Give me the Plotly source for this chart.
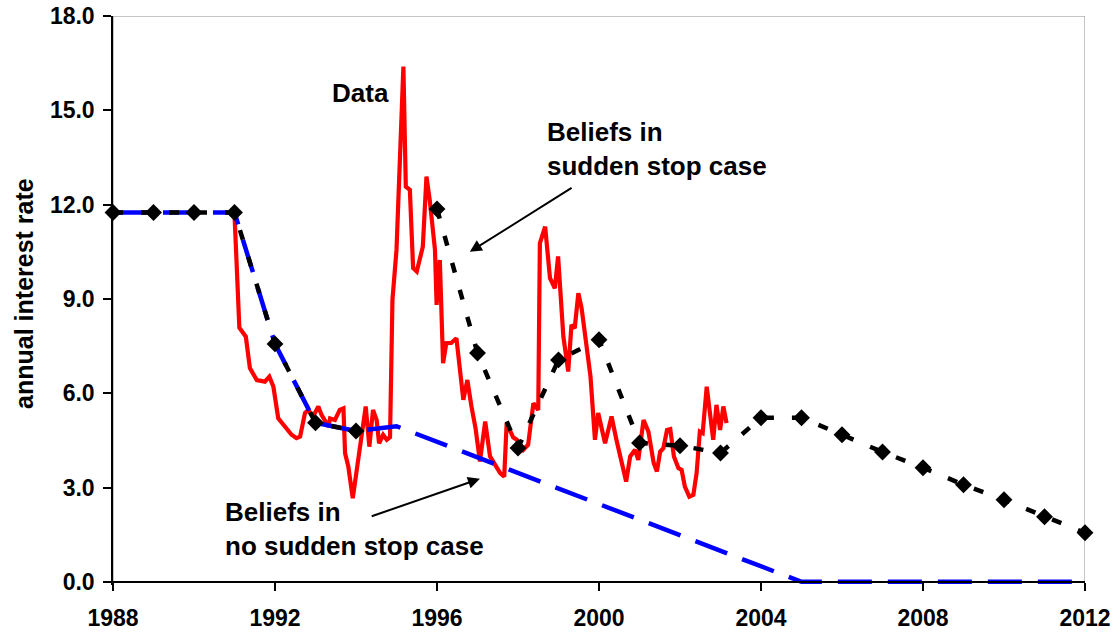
import plotly.graph_objects as go

# ---- data ----
data_years = [1991.00, 1991.12, 1991.28, 1991.38, 1991.55, 1991.75, 1991.86, 1991.96,
              1992.08, 1992.25, 1992.41, 1992.53, 1992.62, 1992.74, 1992.82, 1992.94,
              1993.07, 1993.15, 1993.23, 1993.32, 1993.36, 1993.48, 1993.60, 1993.69,
              1993.73, 1993.81, 1993.92, 1994.01, 1994.14, 1994.24, 1994.33, 1994.42,
              1994.51, 1994.57, 1994.67, 1994.76, 1994.84, 1994.90, 1995.00, 1995.09,
              1995.17, 1995.23, 1995.33, 1995.41, 1995.50, 1995.65, 1995.74, 1995.82,
              1995.95, 1995.99, 1996.07, 1996.15, 1996.23, 1996.35, 1996.48, 1996.65,
              1996.75, 1996.85, 1996.95, 1997.06, 1997.19, 1997.31, 1997.43, 1997.56,
              1997.66, 1997.72, 1997.88, 1997.97, 1998.13, 1998.25, 1998.38, 1998.50,
              1998.54, 1998.67, 1998.79, 1998.91, 1998.99, 1999.12, 1999.24, 1999.32,
              1999.40, 1999.49, 1999.57, 1999.69, 1999.79, 1999.90, 1999.98, 2000.15,
              2000.31, 2000.43, 2000.56, 2000.67, 2000.77, 2000.89, 2000.97, 2001.10,
              2001.22, 2001.35, 2001.43, 2001.51, 2001.59, 2001.68, 2001.76, 2001.85,
              2001.96, 2002.04, 2002.12, 2002.23, 2002.33, 2002.41, 2002.49, 2002.56,
              2002.66, 2002.75, 2002.82, 2002.90, 2002.99, 2003.07, 2003.15]
data_rate = [11.70, 8.08, 7.80, 6.80, 6.42, 6.37, 6.53, 6.21,
             5.20, 4.94, 4.68, 4.57, 4.62, 5.37, 5.47, 5.26,
             5.58, 5.31, 5.15, 4.94, 5.20, 5.15, 5.47, 5.52,
             4.09, 3.67, 2.66, 3.46, 4.73, 5.58, 4.30, 5.47,
             5.15, 4.41, 4.68, 4.52, 4.60, 8.97, 10.56, 13.74,
             16.39, 12.57, 12.47, 9.98, 9.87, 10.66, 12.89, 12.15,
             10.56, 8.81, 10.24, 6.96, 7.59, 7.60, 7.75, 5.79,
             6.42, 5.58, 4.90, 3.83, 5.10, 3.99, 3.72, 3.46,
             3.35, 5.05, 4.60, 4.52, 4.20, 4.36, 5.68, 5.47,
             10.77, 11.30, 9.66, 9.34, 10.35, 7.80, 6.69, 8.17,
             8.07, 9.18, 8.71, 7.59, 6.53, 4.52, 5.37, 4.41,
             5.26, 4.52, 3.78, 3.19, 3.99, 4.20, 3.88, 5.15,
             4.78, 3.78, 3.51, 4.14, 4.25, 4.83, 4.86, 3.99,
             3.62, 3.56, 3.03, 2.71, 2.77, 3.46, 4.78, 4.73,
             6.21, 5.26, 4.52, 5.63, 4.83, 5.58, 5.05]

ss_years = list(range(1988, 2013))
ss_rate = [11.75, 11.75, 11.75, 11.75, 7.57, 5.06, 4.80, None,
           11.86, 7.28, 4.26, 7.06, 7.70, 4.42, 4.33, 4.10,
           5.22, 5.22, 4.68, 4.13, 3.63, 3.09, 2.61, 2.07, 1.56]

nss_years = [1988, 1989, 1990, 1991, 1992, 1993, 1994, 1995, 2005, 2012]
nss_rate = [11.75, 11.75, 11.75, 11.75, 7.57, 5.06, 4.80, 4.95, 0.0, 0.0]

y_ticks = [0, 3, 6, 9, 12, 15, 18]
x_ticks = [1988, 1992, 1996, 2000, 2004, 2008, 2012]

FONT = "Liberation Sans, Arial, sans-serif"

fig = go.Figure()
fig.add_trace(go.Scatter(x=data_years, y=data_rate, mode="lines",
                         line=dict(color="#ff0000", width=4.2),
                         name="Data", hoverinfo="x+y"))
fig.add_trace(go.Scatter(x=nss_years, y=nss_rate, mode="lines",
                         line=dict(color="#0000ff", width=4.5, dash="34px,16px"),
                         name="No sudden stop", cliponaxis=False))
fig.add_trace(go.Scatter(x=ss_years, y=ss_rate, mode="lines+markers",
                         line=dict(color="#000000", width=4.5, dash="10px,18px"),
                         marker=dict(symbol="diamond", size=13, color="#000000"),
                         connectgaps=False, cliponaxis=False,
                         name="Sudden stop"))

ylo = -0.1
tick_font = dict(family=FONT, size=23, color="black", weight="bold")
fig.update_layout(
    width=1119, height=635,
    margin=dict(l=113, r=34, t=16, b=50, autoexpand=False),
    paper_bgcolor="white", plot_bgcolor="white",
    showlegend=False,
    font=dict(family=FONT, color="black", size=22, weight="bold"),
    xaxis=dict(range=[1988, 2012], tickvals=x_ticks, tickformat="d",
               showgrid=False, zeroline=False, showline=True,
               linecolor="black", linewidth=1.5,
               ticks="outside", ticklen=8, tickwidth=1.5, tickcolor="black",
               anchor="free", position=(0 - ylo) / (18 - ylo),
               ticklabelstandoff=8, ticklabeloverflow="allow", tickfont=tick_font),
    yaxis=dict(range=[ylo, 18], tickvals=y_ticks, tickformat=".1f",
               showgrid=False, zeroline=False, showline=True,
               linecolor="black", linewidth=1.5,
               ticks="outside", ticklen=8, tickwidth=1.5, tickcolor="black",
               ticklabelstandoff=4, ticklabeloverflow="allow", tickfont=tick_font),
)

# grey plot-area frame (top / right)
fig.add_shape(type="rect", xref="x", yref="y", x0=1988, x1=2012, y0=0, y1=18,
              line=dict(color="#8c8c8c", width=1), layer="below")

ann_font = dict(family=FONT, size=26, color="black", weight="bold")
fig.add_annotation(text="annual interest rate", xref="paper", x=0, xshift=-89,
                   yref="y", y=9.16, textangle=-90, showarrow=False,
                   xanchor="center", yanchor="middle",
                   font=dict(family=FONT, size=25, color="black", weight="bold"))
fig.add_annotation(text="Data", x=1993.36, y=16.1, xanchor="left", yanchor="top",
                   showarrow=False, font=ann_font)
fig.add_annotation(text="Beliefs in<br>sudden stop case", x=1998.67, y=14.85,
                   xanchor="left", yanchor="top", align="left",
                   showarrow=False, font=ann_font)
fig.add_annotation(text="Beliefs in<br>no sudden stop case", x=1990.72, y=2.76,
                   xanchor="left", yanchor="top", align="left",
                   showarrow=False, font=ann_font)
# arrows
fig.add_annotation(text="", x=1996.81, y=10.50, ax=1999.36, ay=12.56,
                   axref="x", ayref="y", showarrow=True, arrowhead=2,
                   arrowsize=1.2, arrowwidth=2, arrowcolor="black")
fig.add_annotation(text="", x=1997.06, y=3.28, ax=1994.35, ay=2.07,
                   axref="x", ayref="y", showarrow=True, arrowhead=2,
                   arrowsize=1.2, arrowwidth=2, arrowcolor="black")

fig.write_html("out.html",
               config={"displayModeBar": False},
               post_script="document.body.style.margin='0';"
                           "document.body.style.overflow='hidden';")
